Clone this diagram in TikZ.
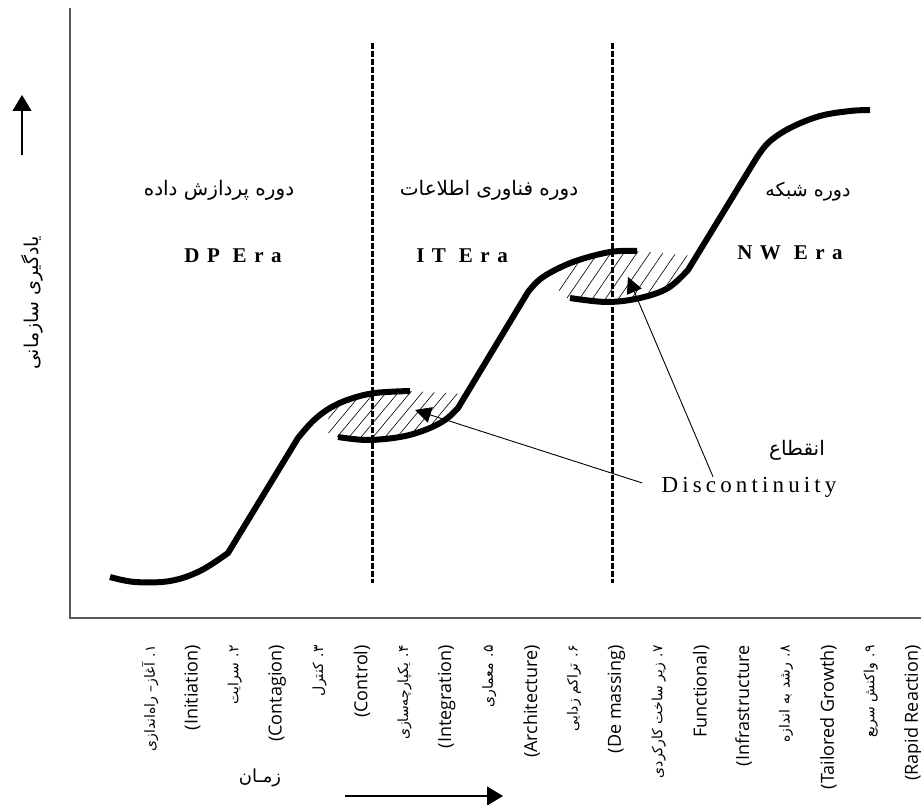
\documentclass[tikz,border=0pt]{standalone}
\usepackage{fontspec}
\setmainfont{Liberation Serif}
\newfontfamily\persian[Script=Arabic]{DejaVu Sans}
\newfontfamily\stagefont{Open Sans}
\newfontfamily\erafont[LetterSpace=36]{Liberation Serif}
\newfontfamily\gapfont[LetterSpace=18]{Liberation Serif}
\TeXXeTstate=1
\usepackage{tikz}
\usetikzlibrary{arrows.meta}
\tikzset{
	curve/.style={line width=6pt},
	divider/.style={line width=3pt,dash pattern=on 6pt off 2pt},
	hatch/.style={line width=.6pt},
	axis line/.style={line width=1.5pt,black!65},
	era en/.style={font=\erafont\bfseries\fontsize{21}{25}\selectfont,inner sep=0pt},
	era fa/.style={font=\persian\fontsize{20}{24}\selectfont,inner sep=0pt,
		execute at begin node=\beginR,execute at end node=\endR},
	stage fa/.style={rotate=90,anchor=east,inner sep=0pt,font=\persian\fontsize{14}{16}\selectfont,
		execute at begin node=\beginR,execute at end node=\endR},
	stage en/.style={rotate=90,anchor=east,inner sep=0pt,font=\stagefont\fontsize{18}{22}\selectfont},
	pointer/.style={->,line width=.9pt}
}

\begin{document}
\begin{tikzpicture}[x=1pt,y=-1pt,>={Triangle[length=16pt,width=16pt]}]
	\useasboundingbox[fill=white] (0,0) rectangle (921,805);
	% axes
	\draw[axis line] (70,8) -- (70,618) -- (921,618);
	\coordinate (up0) at (22,155);
	\coordinate (up1) at (22,95);
	\coordinate (time0) at (345,796);
	\coordinate (time1) at (503,796);
	\draw[->,line width=1.2pt,>={Triangle[length=16pt,width=19pt]}] (up0) -- (up1);
	\draw[->,line width=1.2pt,>={Triangle[length=16pt,width=19pt]}] (time0) -- (time1);
	\node[era fa,rotate=90,font=\persian\fontsize{19}{22}\selectfont] (learn) at (32,303) {یادگیری سازمانی};
	\node[era fa,font=\persian\fontsize{18}{21}\selectfont] (time) at (260,778) {زمـان};
	% era dividers
	\draw[divider] (372,43) -- (372,583);
	\draw[divider] (612,43) -- (612,583);
	% hatched gaps
	\begin{scope}
		\clip (326,432) -- (330,410) -- (350,399) -- (375,393) -- (410,391) -- (462,394) -- (458,408)
			-- (445,420) -- (425,430) -- (400,437) -- (367,440) -- (338,437) -- cycle;
		\foreach \k in {0,...,17}
			\draw[hatch] (270+12*\k,460) -- ++(60,-72);
	\end{scope}
	\begin{scope}
		\clip (558,298) -- (562,272) -- (573,262) -- (610,252) -- (637,251) -- (694,256) -- (688,272)
			-- (668,288) -- (640,298) -- (607,302) -- (570,298) -- cycle;
		\foreach \k in {0,...,17}
			\draw[hatch] (500+13*\k,320) -- ++(52,-76);
	\end{scope}
	% S curves
	\draw[curve] plot[smooth,tension=.6] coordinates {(110,577) (135,582) (170,581) (200,571) (228,553)}
		-- plot[smooth,tension=.6] coordinates {(298,438) (313,421) (330,408) (350,399) (375,393) (410,391)};
	\draw[curve] plot[smooth,tension=.6] coordinates {(338,437) (367,440) (400,437) (425,430) (445,420) (458,408)}
		-- plot[smooth,tension=.6] coordinates {(528,292) (543,277) (573,262) (610,252) (637,251)};
	\draw[curve] plot[smooth,tension=.6] coordinates {(570,298) (607,302) (640,298) (668,288) (688,270)}
		-- plot[smooth,tension=.6] coordinates {(754,162) (768,143) (790,128) (820,116) (850,111) (870,110)};
	% era names
	\node[era fa] (dpfa) at (219,190) {دوره پردازش داده};
	\node[era en] (dp) at (233,256) {DP Era};
	\node[era fa] (itfa) at (489,190) {دوره فناوری اطلاعات};
	\node[era en] (it) at (462,256) {IT Era};
	\node[era fa,font=\persian\fontsize{19}{22}\selectfont] (nwfa) at (808,192) {دوره شبکه};
	\node[era en] (nw) at (790,253) {NW Era};
	% discontinuity
	\node[era fa,font=\persian\fontsize{20}{24}\selectfont] (gapfa) at (797,450) {انقطاع};
	\node[font=\gapfont\fontsize{23}{27}\selectfont,inner sep=0pt] (gap) at (749,487) {Discontinuity};
	\coordinate (tip1) at (415,410);
	\coordinate (tip2) at (628,277);
	\draw[pointer] ([xshift=-19pt,yshift=4pt]gap.west) -- (tip1);
	\draw[pointer] ([xshift=-36pt]gap.north) -- (tip2);
	% stages along time axis
	\foreach \i/\kind/\txt in {0/fa/{۱. آغاز– راه‌اندازی},1/en/(Initiation),2/fa/{۲. سرایت},3/en/(Contagion),
		4/fa/{۳. کنترل},5/en/(Control),6/fa/{۴. یکپارچه‌سازی},7/en/(Integration),8/fa/{۵. معماری},
		9/en/(Architecture),10/fa/{۶. تراکم زدایی},11/en/{(De massing)},12/fa/{۷. زیر ساخت کارکردی},
		13/en/Functional),14/en/(Infrastructure,15/fa/{۸. رشد به اندازه},16/en/{(Tailored Growth)},
		17/fa/{۹. واکنش سریع},18/en/{(Rapid Reaction)}}
		\node[stage \kind] (stage\i) at ({150+42.4*\i},645) {\txt};
\end{tikzpicture}
\end{document}
